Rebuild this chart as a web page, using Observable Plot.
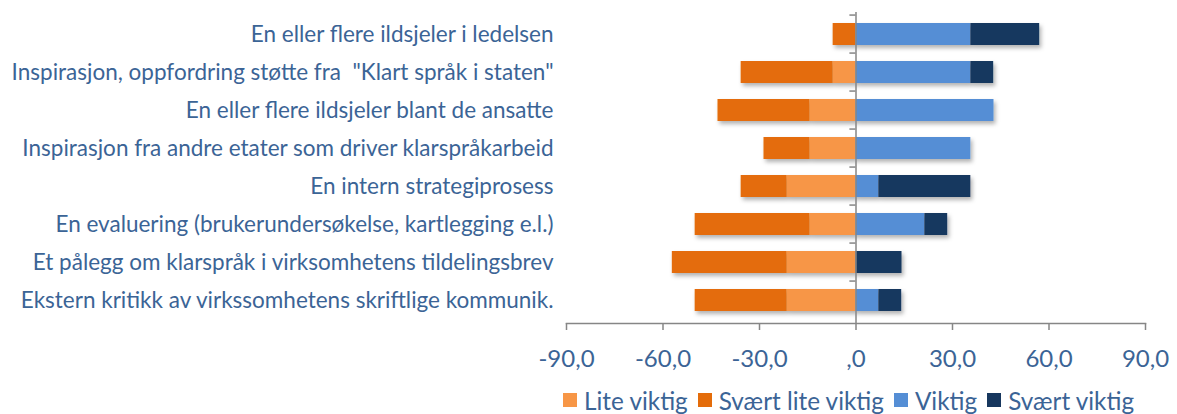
<!DOCTYPE html>
<html>
<head>
<meta charset="utf-8">
<script src="https://cdn.jsdelivr.net/npm/d3@7"></script>
<script src="https://cdn.jsdelivr.net/npm/@observablehq/plot@0.6"></script>
<style>
  html, body { margin: 0; padding: 0; background: #fff; }
  #wrap { position: relative; width: 1177px; height: 414px; font-family: Lato, "Open Sans", sans-serif; }
  g[aria-label="x-axis tick label"] { fill: #3B6496; }
  g[aria-label="y-axis tick label"] { fill: #3B6496; }
  #legend { position: absolute; left: 563px; top: 385px; height: 30px; display: flex; align-items: center; font-size: 24.3px; color: #3B6496; white-space: nowrap; }
  #legend .item { display: flex; align-items: center; margin-right: 10px; }
  #legend .sw { width: 14px; height: 14px; margin-right: 7px; }
</style>
</head>
<body>
<div id="wrap"><div id="chart"></div><div id="legend"></div></div>
<script>
const categories = [
  "En eller flere ildsjeler i ledelsen",
  "Inspirasjon, oppfordring støtte fra  \"Klart språk i staten\"",
  "En eller flere ildsjeler blant de ansatte",
  "Inspirasjon fra andre etater som driver klarspråkarbeid",
  "En intern strategiprosess",
  "En evaluering (brukerundersøkelse, kartlegging e.l.)",
  "Et pålegg om klarspråk i virksomhetens tildelingsbrev",
  "Ekstern kritikk av virkssomhetens skriftlige kommunik."
];
const seriesNames = ["Lite viktig", "Svært lite viktig", "Viktig", "Svært viktig"];
const seriesColors = ["#F79646", "#E46C0A", "#558ED5", "#17375E"];
// negative side (unimportant) shown to the left of zero
const liteViktig       = [-0.0, -7.1, -14.3, -14.3, -21.4, -14.3, -21.4, -21.4];
const svaertLiteViktig = [-7.1, -28.6, -28.6, -14.3, -14.3, -35.7, -35.7, -28.6];
const viktig           = [35.7, 35.7, 42.9, 35.7, 7.1, 21.4, 0.0, 7.1];
const svaertViktig     = [21.4, 7.1, 0.0, 0.0, 28.6, 7.1, 14.3, 7.1];
const xTicks = [-90, -60, -30, 0, 30, 60, 90];

const seriesValues = [liteViktig, svaertLiteViktig, viktig, svaertViktig];
const data = [];
seriesNames.forEach((s, si) => {
  categories.forEach((c, ci) => {
    data.push({category: c, series: s, value: seriesValues[si][ci]});
  });
});

const fmt = d => d === 0 ? ",0" : d.toFixed(1).replace(".", ",");
const grey = "#868686";
const nCat = categories.length;
const marginTop = 12, axisY = 323;
const step = (axisY - marginTop) / nCat;
const pad = 0.41;

const chart = Plot.plot({
  width: 1177,
  height: 374,
  marginLeft: 566,
  marginRight: 32,
  marginTop: marginTop,
  marginBottom: 374 - axisY,
  style: { fontFamily: "Lato, 'Open Sans', sans-serif", background: "transparent" },
  x: { domain: [-90, 90], ticks: xTicks, tickFormat: fmt },
  y: { domain: categories, paddingInner: pad, paddingOuter: pad / 2, label: null },
  color: { domain: seriesNames, range: seriesColors },
  marks: [
    Plot.barX(data, Plot.stackX({ y: "category", x: "value", z: "series", fill: "series", order: seriesNames })),
    Plot.ruleX([0], { stroke: grey, strokeWidth: 1.5 }),
    Plot.ruleY(categories, { y: d => d, x1: -1.9, x2: 0, stroke: grey, strokeWidth: 1.5, dy: -step / 2 }),
    Plot.frame({ anchor: "bottom", stroke: grey, strokeWidth: 1.5 }),
    Plot.axisX({ ticks: xTicks, tickFormat: fmt, tickSize: 7, tickPadding: 19, fontSize: 24, color: grey, label: null, strokeWidth: 1.5 }),
    Plot.axisY({ tickSize: 0, tickPadding: 13, fontSize: 22.5, label: null })
  ]
});
document.getElementById("chart").appendChild(chart);

// soft drop shadow on bars
const svg = d3.select(chart);
const defs = svg.insert("defs", ":first-child");
const f = defs.append("filter").attr("id", "shadow").attr("x", "-10%").attr("y", "-20%").attr("width", "130%").attr("height", "160%");
f.append("feDropShadow").attr("dx", 2).attr("dy", 3).attr("stdDeviation", 2).attr("flood-color", "#000").attr("flood-opacity", 0.3);
svg.select('g[aria-label="bar"]').attr("filter", "url(#shadow)");

const legend = d3.select("#legend");
seriesNames.forEach((s, i) => {
  const it = legend.append("div").attr("class", "item");
  it.append("div").attr("class", "sw").style("background", seriesColors[i]);
  it.append("span").text(s);
});
</script>
</body>
</html>
